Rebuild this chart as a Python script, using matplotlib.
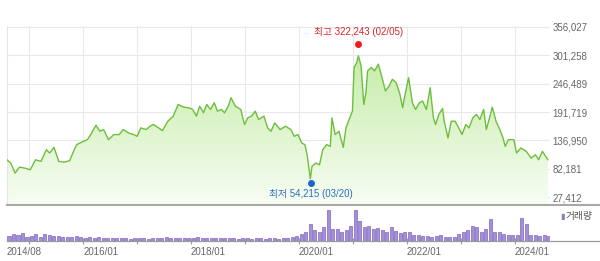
import matplotlib
matplotlib.use('Agg')
import matplotlib.pyplot as plt
import numpy as np
import pandas as pd
from matplotlib.colors import LinearSegmentedColormap
from matplotlib.lines import Line2D

plt.rcParams['font.family'] = ['Liberation Sans', 'Noto Sans CJK KR', 'DejaVu Sans']

# price (decimal year, won)
years = [2014.59, 2014.66, 2014.74, 2014.82, 2014.92, 2015.02, 2015.12, 2015.22, 2015.32, 2015.38,
         2015.46, 2015.55, 2015.65, 2015.75, 2015.81, 2015.88, 2015.98, 2016.08, 2016.14, 2016.24,
         2016.31, 2016.38, 2016.47, 2016.57, 2016.67, 2016.74, 2016.84, 2016.94, 2017.00, 2017.07,
         2017.17, 2017.24, 2017.30, 2017.40, 2017.47, 2017.57, 2017.67, 2017.76, 2017.86, 2017.96,
         2018.03, 2018.10, 2018.16, 2018.23, 2018.29, 2018.36, 2018.43, 2018.49, 2018.56, 2018.62,
         2018.69, 2018.74, 2018.82, 2018.92, 2018.99, 2019.05, 2019.12, 2019.19, 2019.25, 2019.35,
         2019.42, 2019.48, 2019.55, 2019.65, 2019.75, 2019.85, 2019.91, 2019.98, 2020.05, 2020.11,
         2020.15, 2020.21, 2020.24, 2020.31, 2020.38, 2020.44, 2020.51, 2020.58, 2020.61, 2020.67,
         2020.74, 2020.79, 2020.82, 2020.87, 2020.94, 2020.99, 2021.02, 2021.07, 2021.10, 2021.15,
         2021.20, 2021.24, 2021.27, 2021.34, 2021.40, 2021.47, 2021.53, 2021.60, 2021.67, 2021.73,
         2021.80, 2021.87, 2021.92, 2021.96, 2022.03, 2022.10, 2022.16, 2022.23, 2022.29, 2022.36,
         2022.43, 2022.49, 2022.53, 2022.59, 2022.66, 2022.69, 2022.76, 2022.82, 2022.89, 2022.96,
         2023.02, 2023.09, 2023.15, 2023.22, 2023.29, 2023.35, 2023.42, 2023.47, 2023.53, 2023.58,
         2023.65, 2023.72, 2023.78, 2023.82, 2023.88, 2023.98, 2024.03, 2024.11, 2024.21, 2024.30,
         2024.38, 2024.44, 2024.51, 2024.61]
prices = [99700, 93300, 73900, 85500, 83600, 80400, 99700, 96500, 119100, 112700,
          123600, 96500, 95200, 97800, 112700, 128800, 133900, 138500, 148200, 166300,
          154600, 157900, 138500, 148200, 148200, 157900, 151400, 148200, 144900, 161100,
          157900, 164300, 167600, 161100, 155900, 174000, 183700, 206300, 201100, 199800,
          196600, 183700, 203100, 190200, 206300, 196600, 209500, 193400, 196600, 190200,
          203100, 219200, 203100, 196600, 167600, 180500, 183700, 193400, 177200, 183700,
          161100, 154600, 170800, 157900, 164300, 157900, 144900, 148200, 132000, 128800,
          109400, 63000, 86800, 93300, 90000, 119100, 128800, 125600, 180500, 148200,
          154600, 135200, 123600, 161100, 180500, 193400, 277400, 287100, 300000, 280600,
          206300, 228900, 270900, 277400, 270900, 283800, 261200, 232200, 241800, 254700,
          248300, 225700, 199800, 222500, 258000, 209500, 196600, 209500, 212800, 196600,
          238600, 180500, 167600, 186900, 198600, 174000, 141700, 174000, 174000, 161100,
          148200, 167600, 161100, 180500, 186900, 177200, 196600, 157900, 180500, 201100,
          174000, 157900, 141700, 125600, 138500, 138500, 112700, 122400, 115900, 103000,
          109400, 99700, 115900, 99700]

# monthly volume (relative), 2014/08 .. 2024/08
volume = [15, 22, 18, 25, 14,
          16, 22, 14, 24, 20, 15, 17, 13, 14, 12, 15, 12,
          11, 13, 10, 12, 11, 9, 10, 11, 9, 10, 8, 10,
          9, 10, 8, 11, 9, 10, 12, 9, 11, 10, 9, 11,
          10, 12, 9, 11, 10, 9, 10, 11, 9, 10, 8, 9,
          9, 8, 10, 9, 8, 9, 10, 8, 9, 10, 12, 15,
          22, 30, 55, 35, 28, 45, 100, 40, 38, 30, 35, 48,
          100, 65, 45, 50, 38, 42, 35, 30, 45, 32, 25, 28,
          30, 20, 18, 15, 16, 14, 15, 18, 14, 12, 14, 22,
          30, 35, 50, 45, 30, 40, 72, 30, 28, 22, 20, 18,
          20, 75, 55, 20, 18, 15, 20, 15]
months = pd.date_range('2014-08-01', periods=len(volume), freq='MS')
vol_x = months.year + (months.month - 0.5) / 12

y_ticks = [27412, 82181, 136950, 191719, 246489, 301258, 356027]
hi_date, hi_val, hi_label = 2021.10, 322243, '최고 322,243 (02/05)'
lo_date, lo_val, lo_label = 2020.215, 54215, '최저 54,215 (03/20)'

W, H = 600, 261
fig = plt.figure(figsize=(6, 2.61), dpi=100)
x0, x1 = 2014.59, 2024.65
ax = fig.add_axes([7 / W, 1 - 204 / H, 543 / W, 178 / H])
ax2 = fig.add_axes([7 / W, 1 - 241 / H, 543 / W, 34 / H])

ybot, ytop = 14500, 357400
fill = ax.fill_between(years, prices, ybot, color='none', lw=0)
cmap = LinearSegmentedColormap.from_list('g', ['#f7fdf3', '#bde99a'])
img = ax.imshow(np.linspace(0, 1, 256).reshape(-1, 1), cmap=cmap, aspect='auto',
                extent=[x0, x1, ybot, ytop], origin='lower', zorder=1)
img.set_clip_path(fill.get_paths()[0], ax.transData)
ax.plot(years, prices, color='#6dbf3c', lw=1.0, zorder=3)

ax.plot([hi_date], [hi_val], 'o', color='#ee1c1c', ms=4, zorder=4)
ax.plot([lo_date], [lo_val], 'o', color='#1f63d0', ms=4, zorder=4)
ax.annotate(hi_label, xy=(hi_date, hi_val), xytext=(0, 12), textcoords='offset pixels',
            ha='center', va='center', fontsize=7, color='#d8262c')
ax.annotate(lo_label, xy=(lo_date, lo_val), xytext=(0, -10.5), textcoords='offset pixels',
            ha='center', va='center', fontsize=7, color='#2d6cc6')

ax.set_xlim(x0, x1)
ax.set_ylim(ybot, ytop)
ax.set_xticks(range(2015, 2025))
ax.set_yticks(y_ticks, [f'{v:,}' for v in y_ticks])
ax.yaxis.tick_right()
ax.tick_params(axis='x', length=0, labelbottom=False)
ax.tick_params(axis='y', length=0, pad=2, labelsize=7, labelcolor='#666666')
ax.grid(color='#e9e9e9', lw=0.8, zorder=0)
ax.set_axisbelow(True)
for s in ['top', 'right', 'bottom']:
    ax.spines[s].set_visible(False)
ax.spines['left'].set_color('#e6e6e6')

ax2.bar(vol_x, volume, width=0.06, color='#a590d6', edgecolor='#7f65bf', lw=0.5)
ax2.set_xlim(x0, x1)
ax2.set_ylim(0, 110)
ax2.set_yticks([])
for s in ['top', 'right', 'left', 'bottom']:
    ax2.spines[s].set_visible(False)
ax2.set_xticks(range(2015, 2025),
               [f'{y}/01' if y % 2 == 0 else '' for y in range(2015, 2025)])
ax2.set_xticks([x0], ['2014/08'], minor=True)
ax2.tick_params(axis='x', which='major', direction='inout', length=4, color='#999999',
                labelsize=7, labelcolor='#666666', pad=2)
ax2.tick_params(axis='x', which='minor', length=0, labelsize=7, labelcolor='#666666', pad=4)
for lab in ax2.get_xticklabels() + ax2.get_xticklabels(minor=True):
    lab.set_ha('left')

fig.add_artist(Line2D([7 / W, 1], [1 - 204.5 / H] * 2, color='#a8a8a8', lw=1.5))
fig.add_artist(Line2D([7 / W, 1], [1 - 241 / H] * 2, color='#9a9a9a', lw=0.9))

fig.text(560 / W, 1 - 216 / H, '▮', color='#8f78c8', fontsize=6, va='center',
         family=['DejaVu Sans'])
fig.text(566 / W, 1 - 216 / H, '거래량', color='#555555', fontsize=7, va='center',
         family=['Noto Sans CJK KR'])

fig.savefig('out.png', dpi=100)
